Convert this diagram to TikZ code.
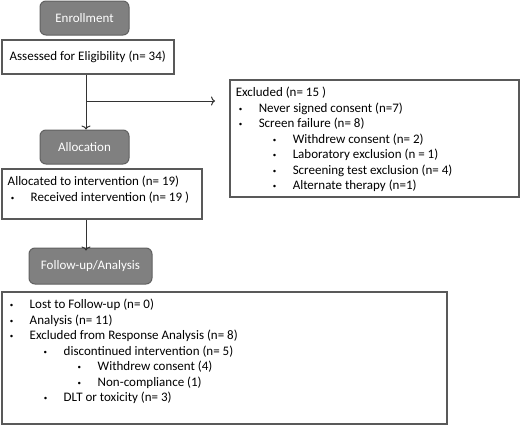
\documentclass[tikz,border=0pt]{standalone}
\usepackage{fontspec}
\setmainfont{Carlito}
\usetikzlibrary{arrows.meta}
\newcommand{\lvl}[2]{\hspace*{#1}\makebox[20pt][l]{\raisebox{1pt}{\fontsize{7}{7}\selectfont\textbullet}}#2}
\newcommand{\listbox}[3]{\parbox[c][#2][t]{#1}{\vspace*{2.5pt}\raggedright #3}}
\begin{document}
\begin{tikzpicture}[x=1pt,y=-1pt,font=\fontsize{13}{15.5}\selectfont,
	stage/.style={draw=black!62,fill=black!50,rounded corners=6pt,text=white,
					line width=1pt,minimum width=89pt,minimum height=34pt,inner sep=0pt},
	info/.style={draw=black!65,fill=white,line width=1.5pt,anchor=north west,
					inner xsep=6pt,inner ysep=5pt},
	arr/.style={-{To[length=4pt,width=9pt]},black!80,line width=1pt}]
	\useasboundingbox (0,0) rectangle (520,426);
	\node[stage] (enroll) at (84.5,18) {Enrollment};
	\node[info,minimum width=172pt,minimum height=34pt,anchor=west] (assess) at (1,57)
		{Assessed for Eligibility (n= 34)};
	\node[info] (excl) at (229,79) {\listbox{277pt}{107pt}{%
		Excluded (n= 15 )\\
		\lvl{3pt}{Never signed consent (n=7)}\\
		\lvl{3pt}{Screen failure (n= 8)}\\
		\lvl{37pt}{Withdrew consent (n= 2)}\\
		\lvl{37pt}{Laboratory exclusion (n = 1)}\\
		\lvl{37pt}{Screening test exclusion (n= 4)}\\
		\lvl{37pt}{Alternate therapy (n=1)}}};
	\node[stage] (alloc) at (84.5,147) {Allocation};
	\node[info] (given) at (1,168) {\listbox{188pt}{40pt}{%
		Allocated to intervention (n= 19)\\
		\lvl{3pt}{Received intervention (n= 19 )}}};
	\node[stage,minimum width=123pt,minimum height=36pt] (follow) at (90.5,266) {Follow-up/Analysis};
	\node[info] (result) at (1,291) {\listbox{433pt}{122pt}{%
		\lvl{2pt}{Lost to Follow-up (n= 0)}\\
		\lvl{2pt}{Analysis (n= 11)}\\
		\lvl{2pt}{Excluded from Response Analysis (n= 8)}\\
		\lvl{36pt}{discontinued intervention (n= 5)}\\
		\lvl{70pt}{Withdrew consent (4)}\\
		\lvl{70pt}{Non-compliance (1)}\\
		\lvl{36pt}{DLT or toxicity (n= 3)}}};
	% connectors
	\coordinate (split) at (86,101);
	\coordinate (exarr) at (215,101);
	\draw[arr] (assess.south -| split) -- (alloc.north -| split);
	\draw[arr] (split) -- (exarr);
	\draw[arr] (given.south -| split) -- ([yshift=-3pt]follow.north -| split);
\end{tikzpicture}
\end{document}
